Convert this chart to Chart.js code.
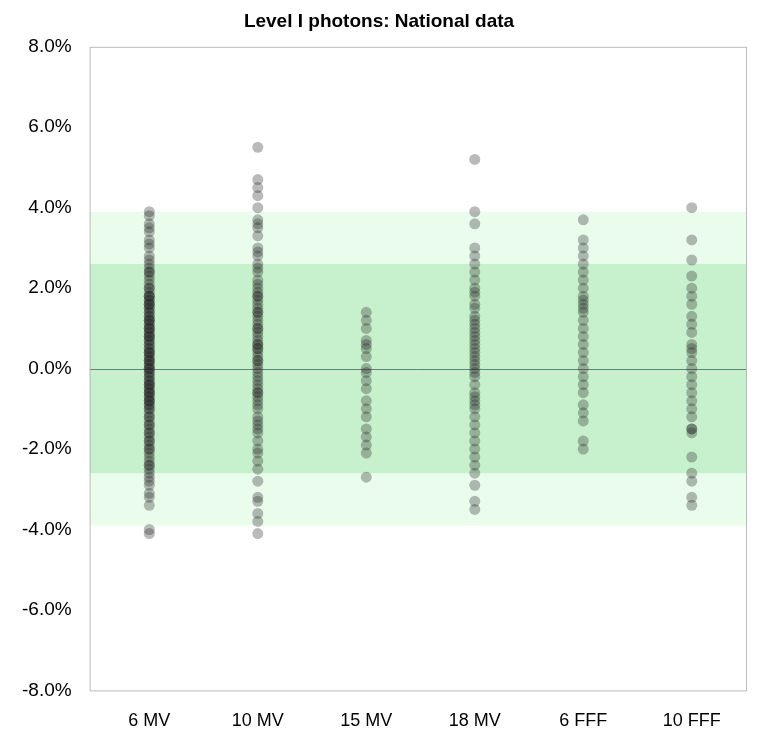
<!DOCTYPE html>
<html>
<head>
<meta charset="utf-8">
<script src="https://cdn.jsdelivr.net/npm/chart.js@4"></script>
<style>
  html, body { margin: 0; padding: 0; background: #fff; }
  #wrap { width: 766px; height: 756px; }
</style>
</head>
<body>
<div id="wrap"><canvas id="chart"></canvas></div>
<script>
const categories = ['6 MV', '10 MV', '15 MV', '18 MV', '6 FFF', '10 FFF'];
const yTicks = [-8, -6, -4, -2, 0, 2, 4, 6, 8];
const outerBand = [-3.9, 3.9];
const innerBand = [-2.6, 2.6];

const mv6 = [-4.1,-4.0,-3.4,-3.2,-3.1,-2.9,-2.8,-2.7,-2.6,-2.5,-2.4,-2.3,-2.2,-2.1,-2.0,-1.9,-1.8,-1.8,-1.7,-1.6,-1.5,-1.4,-1.3,-1.2,-1.1,-1.0,-1.0,-0.9,-0.9,-0.8,-0.8,-0.7,-0.7,-0.6,-0.6,-0.5,-0.5,-0.4,-0.4,-0.3,-0.3,-0.2,-0.2,-0.1,-0.1,0.0,0.0,0.1,0.1,0.2,0.2,0.3,0.3,0.4,0.4,0.5,0.5,0.6,0.6,0.7,0.7,0.8,0.8,0.9,0.9,1.0,1.0,1.1,1.1,1.2,1.2,1.3,1.3,1.4,1.4,1.5,1.5,1.6,1.6,1.7,1.7,1.8,1.8,1.9,2.0,2.1,2.2,2.3,2.4,2.5,2.6,2.7,2.8,3.0,3.1,3.2,3.4,3.5,3.6,3.8,3.9,
  -2.4,-2.0,-1.6,-1.2,-0.8,-0.4,0.0,0.4,0.8,1.2,1.6,2.0,2.4,-1.4,-0.6,0.2,1.0,1.8];
const mv10 = [-4.1,-3.8,-3.6,-3.3,-3.2,-2.8,-2.5,-2.3,-2.1,-2.0,-1.8,-1.6,-1.5,-1.3,-1.2,-1.0,-0.9,-0.8,-0.7,-0.6,-0.5,-0.4,-0.3,-0.2,-0.1,0.0,0.1,0.2,0.3,0.4,0.5,0.5,0.6,0.7,0.8,0.9,1.0,1.1,1.2,1.3,1.4,1.5,1.6,1.7,1.8,1.9,2.0,2.1,2.2,2.4,2.6,2.8,3.0,3.3,3.5,3.6,3.7,4.0,4.3,4.5,4.7,5.5,
  -1.4,-0.6,0.2,0.6,1.0,1.4,1.8,2.5,2.9];
const mv15 = [-2.7,-2.1,-1.9,-1.7,-1.5,-1.2,-1.0,-0.8,-0.5,-0.3,-0.1,0.0,0.3,0.5,0.6,0.7,1.0,1.2,1.4];
const mv18 = [-3.5,-3.3,-2.9,-2.6,-2.4,-2.2,-2.0,-1.8,-1.6,-1.4,-1.2,-1.0,-0.9,-0.7,-0.6,-0.4,-0.2,-0.1,0.0,0.1,0.2,0.4,0.5,0.6,0.8,0.9,1.0,1.2,1.3,1.5,1.6,1.8,2.0,2.2,2.4,2.6,2.8,3.0,3.6,3.9,5.2,
  -0.8,0.3,0.7,1.1,1.9];
const fff6 = [-2.0,-1.8,-1.3,-1.1,-0.9,-0.6,-0.4,-0.2,0.0,0.2,0.4,0.6,0.8,1.0,1.2,1.4,1.6,1.8,2.0,2.2,2.4,2.6,2.8,3.0,3.2,3.7,1.5,1.7];
const fff10 = [-3.4,-3.2,-2.8,-2.6,-2.2,-1.6,-1.5,-1.2,-1.0,-0.8,-0.6,-0.4,-0.2,0.0,0.2,0.4,0.6,0.9,1.1,1.3,1.6,1.8,2.0,2.3,2.7,3.2,4.0,-1.5,0.5];
const seriesValues = [mv6, mv10, mv15, mv18, fff6, fff10];

const points = [];
seriesValues.forEach((vals, i) => vals.forEach(v => points.push({ x: i, y: v })));

const bands = {
  id: 'bands',
  beforeDatasetsDraw(chart) {
    const { ctx, chartArea: a, scales: { y } } = chart;
    ctx.save();
    ctx.fillStyle = '#eafded';
    ctx.fillRect(a.left, y.getPixelForValue(outerBand[1]), a.width, y.getPixelForValue(outerBand[0]) - y.getPixelForValue(outerBand[1]));
    ctx.fillStyle = '#c7f1cc';
    ctx.fillRect(a.left, y.getPixelForValue(innerBand[1]), a.width, y.getPixelForValue(innerBand[0]) - y.getPixelForValue(innerBand[1]));
    ctx.strokeStyle = '#777';
    ctx.lineWidth = 1;
    const z = Math.round(y.getPixelForValue(0)) + 0.5;
    ctx.beginPath(); ctx.moveTo(a.left, z); ctx.lineTo(a.right, z); ctx.stroke();
    ctx.strokeStyle = '#bbb';
    ctx.strokeRect(a.left + 0.5, a.top + 0.5, a.width, a.height);
    ctx.restore();
  }
};

new Chart(document.getElementById('chart'), {
  type: 'scatter',
  data: {
    datasets: [{
      data: points,
      backgroundColor: 'rgba(40,40,40,0.32)',
      borderWidth: 0,
      pointRadius: 5.5,
      pointHoverRadius: 5.5
    }]
  },
  options: {
    responsive: true,
    maintainAspectRatio: false,
    animation: false,
    layout: { padding: { left: 12, right: 20, top: 4, bottom: 12 } },
    plugins: {
      legend: { display: false },
      tooltip: { enabled: false },
      title: {
        display: true,
        text: 'Level I photons: National data',
        color: '#000',
        font: { family: 'Liberation Sans', size: 19, weight: 'bold' },
        padding: { top: 6, bottom: 14 }
      }
    },
    scales: {
      x: {
        type: 'linear',
        min: -0.55,
        max: 5.5,
        afterBuildTicks: s => { s.ticks = categories.map((c, i) => ({ value: i })); },
        ticks: {
          callback: v => categories[v],
          color: '#000',
          font: { family: 'Liberation Sans', size: 18 },
          padding: 12
        },
        grid: { display: false },
        border: { display: false }
      },
      y: {
        min: -8,
        max: 8,
        afterBuildTicks: s => { s.ticks = yTicks.map(v => ({ value: v })); },
        ticks: {
          callback: v => v.toFixed(1) + '%',
          color: '#000',
          font: { family: 'Liberation Sans', size: 19 },
          padding: 10
        },
        grid: { display: false },
        border: { display: false }
      }
    }
  },
  plugins: [bands]
});
</script>
</body>
</html>
